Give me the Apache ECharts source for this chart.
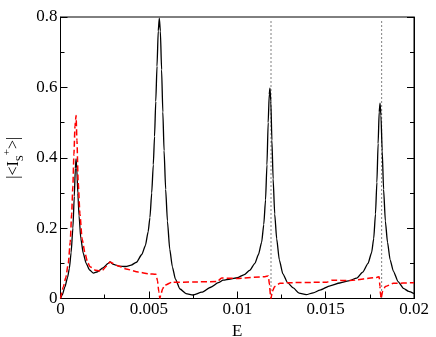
<!DOCTYPE html>
<html>
<head>
<meta charset="utf-8">
<script src="https://cdn.jsdelivr.net/npm/echarts@6/dist/echarts.min.js"></script>
<style>
  html, body { margin: 0; padding: 0; background: #fff; }
  #chart { width: 436px; height: 337px; }
</style>
</head>
<body>
<div id="chart"></div>
<script>
// black solid curve: [E, |<I_S^+>|]
var blackCurve = [
  [0, 0], [0.0001, 0.01], [0.00025, 0.033], [0.0004, 0.06], [0.0005, 0.085], [0.0006, 0.13],
  [0.0007, 0.2], [0.00078, 0.29], [0.00084, 0.37], [0.00088, 0.397], [0.00092, 0.37],
  [0.00098, 0.3], [0.00105, 0.235], [0.00115, 0.17], [0.00129, 0.128], [0.00145, 0.1],
  [0.00165, 0.081], [0.00186, 0.072], [0.0021, 0.076], [0.0024, 0.087], [0.0027, 0.1],
  [0.0028, 0.104], [0.003, 0.097], [0.0033, 0.092], [0.0037, 0.091], [0.004, 0.095],
  [0.0043, 0.103], [0.0046, 0.125], [0.0048, 0.15], [0.00496, 0.19], [0.00506, 0.23],
  [0.00516, 0.3], [0.00525, 0.38], [0.00532, 0.46], [0.00539, 0.56], [0.00546, 0.66],
  [0.00553, 0.76], [0.00559, 0.797], [0.00565, 0.76], [0.00572, 0.65], [0.00579, 0.53],
  [0.00586, 0.42], [0.00595, 0.31], [0.00605, 0.22], [0.00618, 0.14], [0.00633, 0.09],
  [0.0065, 0.055], [0.00676, 0.027], [0.0071, 0.014], [0.0075, 0.01], [0.008, 0.018],
  [0.0085, 0.032], [0.00893, 0.045], [0.0092, 0.052], [0.0096, 0.055], [0.01, 0.059],
  [0.0104, 0.068], [0.0107, 0.08], [0.011, 0.1], [0.0112, 0.125], [0.01138, 0.16],
  [0.0115, 0.21], [0.0116, 0.28], [0.01168, 0.38], [0.01175, 0.5], [0.01181, 0.58],
  [0.01185, 0.598], [0.0119, 0.56], [0.01196, 0.45], [0.01203, 0.34], [0.01212, 0.24],
  [0.01223, 0.17], [0.01238, 0.11], [0.01258, 0.07], [0.01285, 0.045], [0.01317, 0.03],
  [0.0135, 0.015], [0.0139, 0.011], [0.0143, 0.016], [0.01468, 0.024], [0.01525, 0.036],
  [0.0158, 0.044], [0.0163, 0.05], [0.01676, 0.058], [0.0171, 0.075], [0.0174, 0.1],
  [0.0176, 0.13], [0.01772, 0.17], [0.01782, 0.24], [0.0179, 0.33], [0.01797, 0.44],
  [0.01803, 0.53], [0.01808, 0.555], [0.01813, 0.52], [0.0182, 0.42], [0.01828, 0.31],
  [0.01838, 0.22], [0.0185, 0.16], [0.01865, 0.11], [0.01883, 0.078], [0.0191, 0.048],
  [0.0194, 0.029], [0.0197, 0.02], [0.02, 0.014]
];

// red dashed curve
var redCurve = [
  [0, 0], [0.00016, 0.033], [0.0003, 0.06], [0.00044, 0.1], [0.00055, 0.16], [0.00063, 0.24],
  [0.0007, 0.32], [0.00076, 0.41], [0.00082, 0.49], [0.00088, 0.52], [0.00093, 0.45],
  [0.001, 0.33], [0.0011, 0.24], [0.00122, 0.17], [0.00139, 0.128], [0.00152, 0.105],
  [0.00167, 0.09], [0.002, 0.08], [0.00233, 0.078], [0.0026, 0.092], [0.0028, 0.104],
  [0.0032, 0.094], [0.0037, 0.084], [0.0044, 0.075], [0.005, 0.07], [0.0054, 0.069],
  [0.00549, 0.05], [0.00556, 0.02], [0.00562, 0], [0.00568, 0.012], [0.00578, 0.028],
  [0.00591, 0.038], [0.00629, 0.046], [0.0075, 0.047], [0.00885, 0.048], [0.00912, 0.058],
  [0.00997, 0.057], [0.01157, 0.062], [0.01176, 0.064], [0.01182, 0.04], [0.01188, 0.01],
  [0.01191, 0], [0.01198, 0.02], [0.01212, 0.034], [0.01242, 0.043], [0.01298, 0.045],
  [0.01468, 0.046], [0.01506, 0.046], [0.01534, 0.052], [0.01638, 0.051], [0.01789, 0.06],
  [0.01803, 0.062], [0.01807, 0.035], [0.01811, 0.01], [0.01814, 0], [0.01822, 0.02],
  [0.01838, 0.034], [0.01883, 0.043], [0.02, 0.045]
];

// dotted vertical markers
var dottedLineE = [0.01191, 0.01817];

var xTicks = { min: 0, max: 0.02, step: 0.005 };
var yTicks = { min: 0, max: 0.8, step: 0.2 };

var serif = "'Liberation Serif', 'Times New Roman', serif";
var chart = echarts.init(document.getElementById('chart'));

var dottedSeries = dottedLineE.map(function (e) {
  return {
    type: 'line',
    data: [[e, yTicks.min], [e, yTicks.max * 0.99]],
    showSymbol: false,
    silent: true,
    lineStyle: { color: '#000', type: [1, 3], width: 1 }
  };
});

chart.setOption({
  animation: false,
  backgroundColor: '#fff',
  grid: {
    left: 60.5,
    right: 22,
    top: 17,
    bottom: 38.5,
    outerBoundsMode: 'none',
    containLabel: false,
    show: true,
    borderColor: '#000',
    borderWidth: 1
  },
  xAxis: {
    type: 'value',
    min: xTicks.min,
    max: xTicks.max,
    interval: xTicks.step,
    name: 'E',
    nameLocation: 'middle',
    nameGap: 25,
    nameTextStyle: { fontFamily: serif, fontSize: 17, color: '#000' },
    axisLine: { lineStyle: { color: '#000' } },
    axisTick: { inside: true, length: 7, lineStyle: { color: '#000' } },
    minorTick: { show: true, splitNumber: 2, length: 4, lineStyle: { color: '#000' } },
    splitLine: { show: false },
    axisLabel: { fontFamily: serif, fontSize: 17, color: '#000', margin: 3 }
  },
  yAxis: [{
    type: 'value',
    min: yTicks.min,
    max: yTicks.max,
    interval: yTicks.step,
    name: '|<I{s|S}{p|+}>|',
    nameLocation: 'middle',
    nameGap: 27,
    nameTextStyle: {
      fontFamily: serif, fontSize: 16, color: '#000',
      rich: {
        s: { fontFamily: serif, fontSize: 11, color: '#000', verticalAlign: 'bottom', lineHeight: 24 },
        p: { fontFamily: serif, fontSize: 11, color: '#000', verticalAlign: 'top', lineHeight: 24 }
      }
    },
    axisLine: { lineStyle: { color: '#000' } },
    axisTick: { inside: true, length: 7, lineStyle: { color: '#000' } },
    minorTick: { show: true, splitNumber: 2, length: 4, lineStyle: { color: '#000' } },
    splitLine: { show: false },
    axisLabel: { fontFamily: serif, fontSize: 17, color: '#000', margin: 3 }
  }, {
    type: 'value',
    position: 'right',
    min: yTicks.min,
    max: yTicks.max,
    interval: yTicks.step,
    axisLine: { show: true, lineStyle: { color: '#000' } },
    axisTick: { inside: true, length: 7, lineStyle: { color: '#000' } },
    minorTick: { show: true, splitNumber: 2, length: 4, lineStyle: { color: '#000' } },
    splitLine: { show: false },
    axisLabel: { show: false }
  }],
  series: dottedSeries.concat([
    {
      type: 'line',
      data: blackCurve,
      showSymbol: false,
      smooth: 0.2,
      smoothMonotone: 'x',
      lineStyle: { color: '#000', width: 1.3 }
    },
    {
      type: 'line',
      data: redCurve,
      showSymbol: false,
      smooth: 0.2,
      smoothMonotone: 'x',
      lineStyle: { color: '#ff0000', width: 1.5, type: [6, 3] }
    }
  ])
});
</script>
</body>
</html>
